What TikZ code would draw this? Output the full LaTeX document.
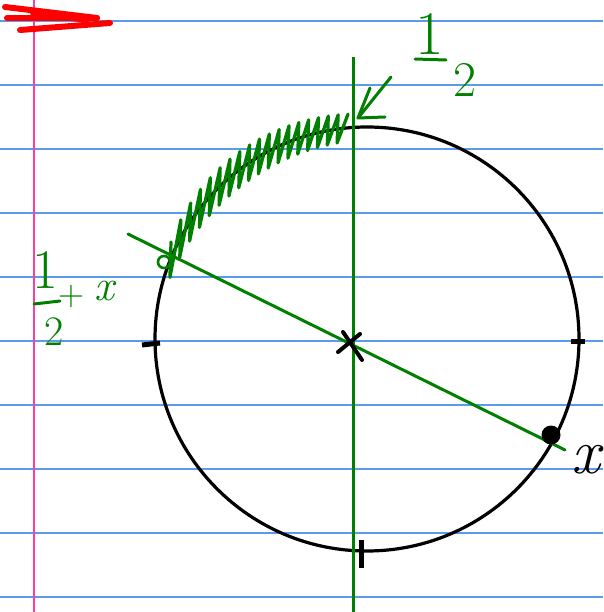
\documentclass[tikz,border=0pt]{standalone}
\usepackage{fontspec}
\definecolor{ruleblue}{HTML}{5A9BF0}
\definecolor{marginpink}{HTML}{FF3F9F}
\definecolor{ink}{HTML}{008000}
\tikzset{
  rule/.style={ruleblue, line width=1.2pt},
  blackpen/.style={black, line width=3.2pt, line cap=round},
  greenpen/.style={ink, line width=3pt, line cap=round, line join=round},
  redpen/.style={red, line width=6pt, line cap=round},
  tickmark/.style={black, line width=5pt},
  hand/.style={inner sep=0pt, outer sep=0pt},
  glyph/.style={hand, font=\fontsize{#1}{#1}\selectfont}
}
\begin{document}
\begin{tikzpicture}[x=1pt,y=-1pt]
\useasboundingbox (0,0) rectangle (603,612);
\fill[white] (0,0) rectangle (603,612);
% ruled lines
\foreach \yy in {21,85,149,213,277,341,405,469,533,597}
  \draw[rule] (0,\yy) -- (603,\yy);
\draw[marginpink, line width=1.4pt] (34,0) -- (34,612);
% red mark
\draw[redpen] (5,7) -- (97,18);
\draw[redpen] (7,18) -- (97,18);
\draw[redpen] (33,13) -- (87,20);
\draw[redpen] (20,30) -- (110,23);
% circle
\coordinate (c) at (367,339);
\draw[blackpen] (c) circle[radius=212];
% hatching along the arc (vertical scribble strokes)
\draw[greenpen, line width=3.2pt]
  plot[domain=0:36, samples=37]
  ({168+177*\x/36 + 3*cos(180*\x)},
   {339-212*sqrt(1-((168+177*\x/36-367)/212)^2) - (24-10*\x/36)*cos(180*\x)});
% vertical axis
\coordinate (vt) at (353,57);
\coordinate (vb) at (353,612);
\draw[greenpen, line cap=butt] (vt) -- (vb);
% diameter
\coordinate (d1) at (128,234);
\coordinate (d2) at (565,450);
\draw[greenpen] (d1) -- (d2);
% tick marks
\coordinate (tl1) at (142,345); \coordinate (tl2) at (160,343);
\draw[tickmark] (tl1) -- (tl2);
\coordinate (tr1) at (571,341); \coordinate (tr2) at (585,341);
\draw[tickmark] (tr1) -- (tr2);
\coordinate (tb1) at (361,540); \coordinate (tb2) at (361,568);
\draw[tickmark] (tb1) -- (tb2);
% center cross
\coordinate (x1) at (343,332); \coordinate (x2) at (362,360);
\coordinate (x3) at (338,352); \coordinate (x4) at (360,334);
\draw[blackpen, line width=4pt] (x1) -- (x2);
\draw[blackpen, line width=4pt] (x3) -- (x4);
% points
\node[hand, circle, fill=black, minimum size=19pt] (dot) at (551,435) {};
\node[hand, circle, draw=ink, line width=2.6pt, minimum size=12pt] (ring) at (164,262) {};
% arrow to the top
\coordinate (as) at (391,77);
\coordinate (at) at (358,118);
\coordinate (ah1) at (370,88);
\coordinate (ah2) at (385,117);
\draw[greenpen] (as) -- (at);
\draw[greenpen] (ah1) -- (at) -- (ah2);
% label 1/2 at the top
\node[glyph=62, ink] (tnum) at (430,34) {1};
\coordinate (tb1l) at (415,59); \coordinate (tb1r) at (446,60);
\draw[greenpen] (tb1l) -- (tb1r);
\node[glyph=50, ink] (tden) at (465,80) {2};
% label 1/2 + x at the left
\node[glyph=56, ink] (lnum) at (45,270) {1};
\coordinate (lbl) at (34,304); \coordinate (lbr) at (60,301);
\draw[greenpen] (lbl) -- (lbr);
\node[glyph=42, ink] (lden) at (54,332) {2};
\node[glyph=36, ink] (lplus) at (71,297) {+};
\node[glyph=44, ink] (lx) at (104,291) {\itshape x};
% x at the bottom right
\node[glyph=64, black] (xl) at (586,460) {\itshape x};
\end{tikzpicture}
\end{document}
